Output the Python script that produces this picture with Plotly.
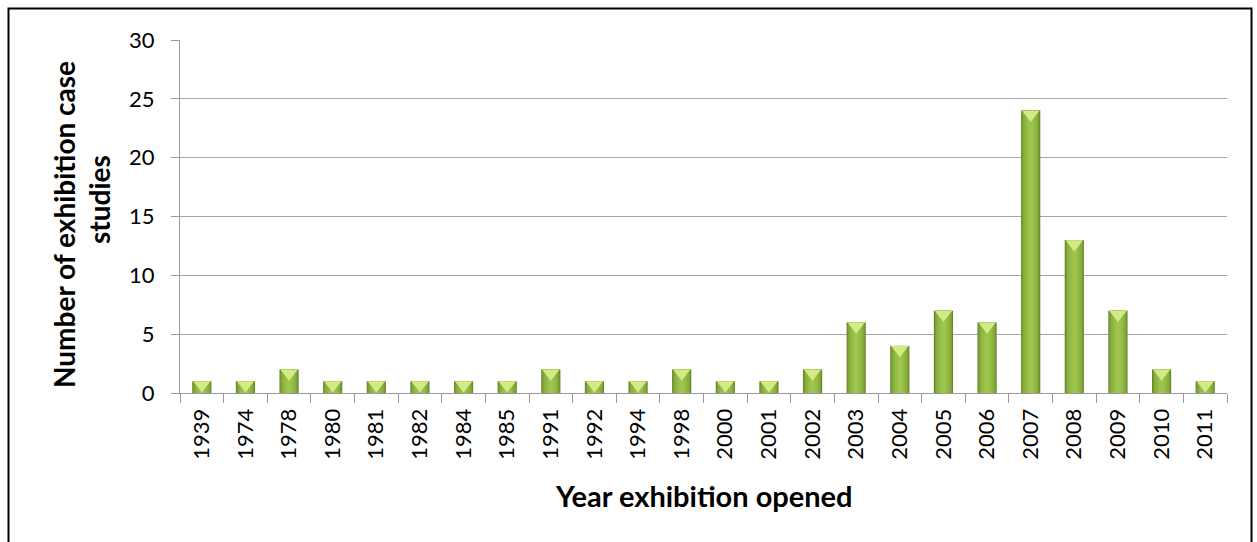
import plotly.graph_objects as go

years = ["1939", "1974", "1978", "1980", "1981", "1982", "1984", "1985", "1991", "1992",
         "1994", "1998", "2000", "2001", "2002", "2003", "2004", "2005", "2006", "2007",
         "2008", "2009", "2010", "2011"]
counts = [1, 1, 2, 1, 1, 1, 1, 1, 2, 1, 1, 2, 1, 1, 2, 6, 4, 7, 6, 24, 13, 7, 2, 1]

y_ticks = [0, 5, 10, 15, 20, 25, 30]

x_title = "Year exhibition opened"
y_title_lines = ["Number of exhibition case", "studies"]

FONT = "Lato"

# plot-area geometry in pixels
L, R, T, B = 180, 1227, 40, 393
PW, PH = R - L, B - T


def px(x):
    return (x - L) / PW


def py(y):
    return (B - y) / PH


fig = go.Figure()

# layered bars to imitate the bevelled gradient fill
layers = [(0.44, "#64842A"), (0.40, "#7A9D34"), (0.34, "#89AF3D"), (0.24, "#94BB45"), (0.12, "#9DC44D")]
for w, c in layers:
    fig.add_trace(go.Bar(x=years, y=counts, width=w, marker=dict(color=c, line=dict(width=0)),
                         hoverinfo="skip", showlegend=False))

# top bevel triangle
fig.add_trace(go.Scatter(x=years, y=counts, mode="markers", yaxis="y2",
                         marker=dict(symbol="triangle-down", size=15, color="#D3EB84",
                                     line=dict(width=0)),
                         hoverinfo="skip", showlegend=False))

fig.update_layout(
    width=1257, height=542,
    margin=dict(l=L, r=1257 - R, t=T, b=542 - B),
    paper_bgcolor="white", plot_bgcolor="white",
    barmode="overlay",
    font=dict(family=FONT, color="black"),
    xaxis=dict(
        type="category", categoryorder="array", categoryarray=years,
        range=[-0.5, len(years) - 0.5], autorange=False,
        tickangle=-90, tickfont=dict(size=22, family=FONT),
        showline=True, linecolor="#9A9A9A", linewidth=1,
        ticks="outside", tickson="boundaries", ticklen=9, tickcolor="#9A9A9A",
        ticklabelstandoff=6,
        showgrid=False,
    ),
    yaxis=dict(
        range=[0, 30], autorange=False, tickvals=y_ticks, tickfont=dict(size=22, family=FONT),
        showline=True, linecolor="#9A9A9A", linewidth=1,
        ticks="outside", ticklen=8, tickcolor="#9A9A9A",
        ticklabelstandoff=12,
        showgrid=True, gridcolor="#A6A6A6", gridwidth=1,
        zeroline=False,
    ),
    yaxis2=dict(range=[0.33, 30.33], autorange=False, overlaying="y", visible=False),
    shapes=[dict(type="rect", xref="paper", yref="paper",
                 x0=px(8.5), x1=px(1251.5), y0=py(560), y1=py(8.5),
                 line=dict(color="black", width=2), layer="below")],
    annotations=[
        dict(text="<b>" + x_title + "</b>", xref="paper", yref="paper", x=0.5, y=py(495),
             xanchor="center", yanchor="middle", showarrow=False, font=dict(size=29, family=FONT)),
        dict(text="<b>" + y_title_lines[0] + "</b>", xref="paper", yref="paper", x=px(64), y=py(225),
             xanchor="center", yanchor="middle", textangle=-90, showarrow=False,
             font=dict(size=28, family=FONT)),
        dict(text="<b>" + y_title_lines[1] + "</b>", xref="paper", yref="paper", x=px(99), y=py(200),
             xanchor="center", yanchor="middle", textangle=-90, showarrow=False,
             font=dict(size=28, family=FONT)),
    ],
)

fig.write_html("out.html")
